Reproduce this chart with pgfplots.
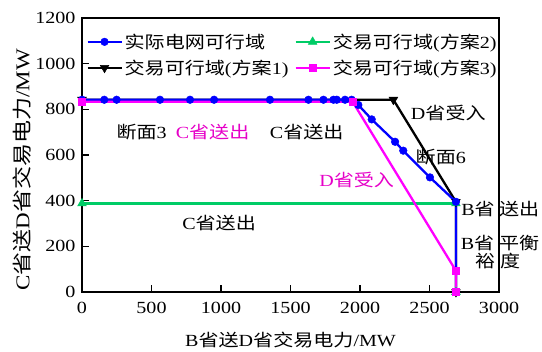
\documentclass[border=0pt]{standalone}
\usepackage{pgfplots}
\pgfplotsset{compat=1.18}
\usepackage{fontspec}
\setmainfont{Liberation Serif}[FakeStretch=1.18]
\newfontfamily\cjk{Noto Sans CJK SC}[FakeStretch=1.18]
\newcommand\zh[1]{{\cjk #1}}
\definecolor{cblue}{RGB}{0,0,255}
\definecolor{cgreen}{RGB}{0,204,102}
\definecolor{cmag}{RGB}{255,0,255}
\definecolor{tmag}{RGB}{230,0,200}
\tikzset{ann/.style={font=\fontsize{17bp}{20bp}\selectfont, inner sep=0pt}}
\pgfplotsset{
 sblue/.style={color=cblue, line width=2.3bp, mark=*, mark size=3.8bp, mark options={solid,fill=cblue,line width=0.5bp}},
 sgreen/.style={color=cgreen, line width=2.3bp, mark=triangle*, mark size=5bp, mark options={solid,fill=cgreen,line width=0.5bp}},
 sblack/.style={color=black, line width=2.3bp, mark=triangle*, mark size=5bp, mark options={solid,fill=black,rotate=180,line width=0.5bp}},
 smag/.style={color=cmag, line width=2.3bp, mark=square*, mark size=3.5bp, mark options={solid,fill=cmag,line width=0.5bp}},
}
\begin{document}
\begin{tikzpicture}
\begin{axis}[
 scale only axis, width=417bp, height=274bp,
 xmin=0,xmax=3000,ymin=0,ymax=1200,
 xtick={0,500,...,3000}, ytick={0,200,...,1200},
 tick align=inside, xtick pos=bottom, ytick pos=left,
 major tick length=7bp,
 axis line style={line width=1.2bp}, tick style={line width=1.1bp,black},
 scaled ticks=false,
 /pgf/number format/assume math mode=true,
 /pgf/number format/1000 sep={},
 tick label style={font=\fontsize{17bp}{20bp}\selectfont},
 xticklabel style={yshift=-7bp},
 yticklabel style={xshift=-3bp},
 xlabel={B\zh{省送}D\zh{省交易电力}/MW},
 ylabel={C\zh{省送}D\zh{省交易电力}/MW},
 xlabel style={at={(rel axis cs:0.5,-0.175)},anchor=center,font=\fontsize{17bp}{20bp}\selectfont},
 ylabel style={at={(rel axis cs:-0.144,0.445)},anchor=center, font=\fontsize{19.5bp}{22bp}\selectfont},
 clip=false,
 legend style={at={(rel axis cs:0.01,0.95)}, anchor=north west, draw=none, fill=none,
   font=\fontsize{17bp}{20bp}\selectfont, /tikz/every even column/.append style={column sep=4bp}, row sep=6bp, inner sep=0pt},
 legend columns=2,
 legend cell align=left,
 legend image code/.code={\draw[mark repeat=2,mark phase=2,#1] plot coordinates {(0bp,0bp)(17bp,0bp)(34bp,0bp)};},
]
\path (axis cs:-589.9,-240.9) rectangle (axis cs:3309,1278.8);
\addplot[sblack, forget plot] coordinates {(0,842)(2240,842)(2690,395)(2690,0)};
\addplot[sgreen, forget plot] coordinates {(0,388)(2690,388)(2690,0)};
\addplot[sblue, forget plot] coordinates {(0,842)(160,842)(249,842)(561,842)(777,842)(950,842)(1352,842)(1629,842)(1737,842)(1809,842)(1833,842)(1892,842)(1940,842)(1988,819)(2084,756)(2252,658)(2311,619)(2503,502)(2690,395)(2690,0)};
\addplot[smag, forget plot] coordinates {(0,833)(1947,833)(2690,93)(2690,0)};
\addlegendimage{sblue}\addlegendentry{\zh{实际电网可行域}}
\addlegendimage{sgreen}\addlegendentry{\zh{交易可行域}(\zh{方案}2)}
\addlegendimage{sblack}\addlegendentry{\zh{交易可行域}(\zh{方案}1)}
\addlegendimage{smag}\addlegendentry{\zh{交易可行域}(\zh{方案}3)}
\node[ann] at (axis cs:429,702) {\zh{断面}3};
\node[ann,tmag] at (axis cs:939,702) {C\zh{省送出}};
\node[ann] at (axis cs:1616,702) {C\zh{省送出}};
\node[ann] at (axis cs:2635,783) {D\zh{省受入}};
\node[ann] at (axis cs:2581,593) {\zh{断面}6};
\node[ann,tmag] at (axis cs:1976,491) {D\zh{省受入}};
\node[ann] at (axis cs:986,304) {C\zh{省送出}};
\node[ann] at (axis cs:2849,362) {B\zh{省}};
\node[ann] at (axis cs:3144,362) {\zh{送出}};
\node[ann] at (axis cs:2845,216) {B\zh{省}};
\node[ann] at (axis cs:3144,216) {\zh{平衡}};
\node[ann] at (axis cs:2900,136) {\zh{裕}};
\node[ann] at (axis cs:3080,136) {\zh{度}};
\end{axis}
\end{tikzpicture}
\end{document}
